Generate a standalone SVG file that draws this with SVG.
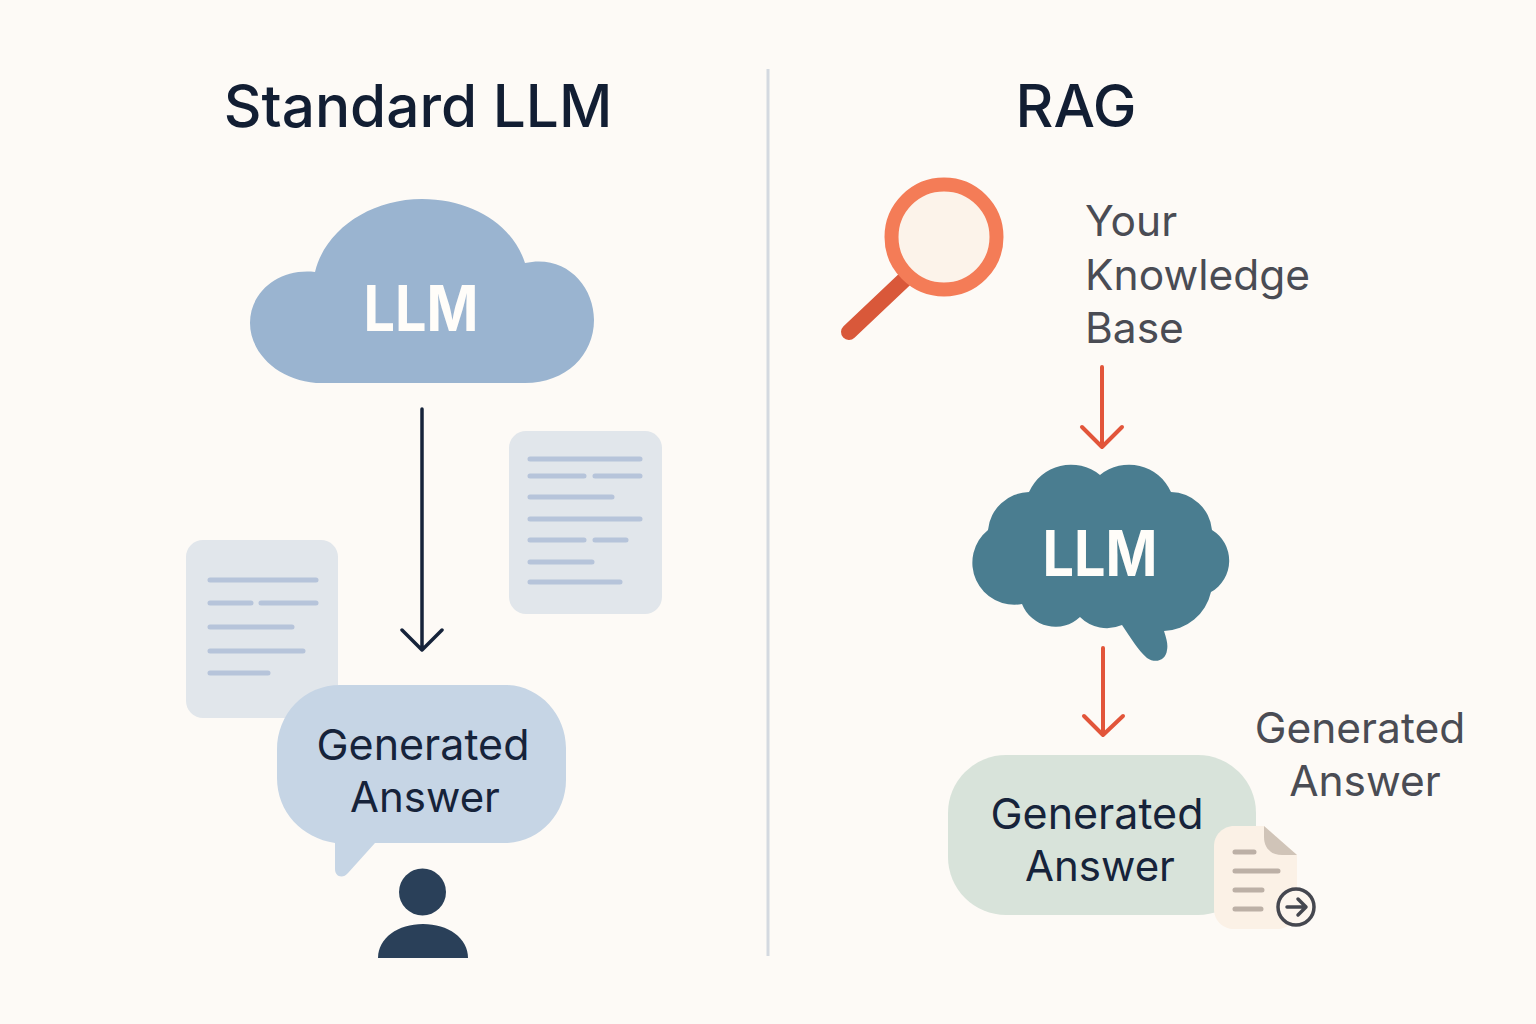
<svg xmlns="http://www.w3.org/2000/svg" width="1536" height="1024" viewBox="0 0 1536 1024">
<style>
text{font-family:"Inter","Noto Sans",sans-serif}
.title{font-size:58.500px;font-weight:500;fill:#121e33;text-anchor:middle}
.llm{font-size:63px;font-weight:650;fill:#fffdf9;text-anchor:middle}
.lab{font-size:43px;fill:#16233a;text-anchor:middle}
.ans{font-size:42px}
.grey{font-size:42.500px;fill:#4a4c54}
.docl{stroke:#b6c4da;stroke-width:5;stroke-linecap:round;fill:none}
.fl{stroke:#bcb0a6;stroke-width:5;stroke-linecap:round;fill:none}
.blue{stroke:#16233a;stroke-width:3.500;fill:none;stroke-linecap:round;stroke-linejoin:round}
.red{stroke:#e2553a;stroke-width:4;fill:none;stroke-linecap:round;stroke-linejoin:round}
</style>
<rect width="1536" height="1024" fill="#fdfaf6"/>
<line x1="768" y1="69" x2="768" y2="956" stroke="#d4d9e0" stroke-width="3"/>
<text class="title" x="418" y="127">Standard LLM</text>
<text class="title" x="1076" y="127">RAG</text>
<g id="cloud-llm">
<path d="M322 383C282 383 250 355 250 323C250 291 280 268 315 272C325 230 370 199 422 199C472 199 513 225 525 263C565 254 594 285 594 320C594 355 566 383 525 383Z" fill="#9ab4d0"/>
<text class="llm" x="421" y="331" textLength="115" lengthAdjust="spacingAndGlyphs">LLM</text>
</g>
<g id="doc-right">
<rect x="509" y="431" width="153" height="183" rx="17" fill="#e1e6eb"/>
<path class="docl" d="M530 459H640M530 476H584M595 476H640M530 497H612M530 519H640M530 540H584M595 540H626M530 562H592M530 582H620"/>
</g>
<g id="doc-left">
<rect x="186" y="540" width="152" height="178" rx="17" fill="#e1e6eb"/>
<path class="docl" d="M210 580H316M210 603H251M261 603H316M210 627H292M210 651H303M210 673H268"/>
</g>
<g id="answer-left">
<path d="M340 685H505C539 685 566 714 566 748V780C566 814 539 843 505 843H375L348 873C343 879 335 877 335 869V843C302 838 277 812 277 778V750C277 714 304 685 340 685Z" fill="#c6d5e5"/>
<text class="lab" x="423" y="760">Generated</text>
<text class="lab ans" x="425" y="812">Answer</text>
</g>
<g id="user">
<circle cx="422.500" cy="892" r="23.500" fill="#2a4059"/>
<path d="M378 958C378 938 398 924 423 924C448 924 468 938 468 958Z" fill="#2a4059"/>
</g>
<g id="search">
<line x1="905" y1="279" x2="849" y2="332" stroke="#d9583a" stroke-width="16" stroke-linecap="round"/>
<circle cx="944" cy="237" r="52.500" fill="#fcf3ea" stroke="#f47c57" stroke-width="14"/>
</g>
<g id="kb">
<text class="grey" x="1085" y="236">Your</text>
<text class="grey" x="1085" y="290">Knowledge</text>
<text class="grey" x="1085" y="343">Base</text>
</g>
<g id="brain-llm">
<path d="M1100 475A46 46 0 0 1 1171 492A42 42 0 0 1 1212 530A36 36 0 0 1 1211 592A50 50 0 0 1 1164 631C1167 640 1168 645 1167 650C1166 660 1156 664 1147 658C1138 650 1130 637 1122 625A38 38 0 0 1 1080 617A36 36 0 0 1 1022 604A42 42 0 0 1 988 530A42 42 0 0 1 1029 492A46 46 0 0 1 1100 475Z" fill="#4a7d90"/>
<text class="llm" x="1100" y="576" textLength="115" lengthAdjust="spacingAndGlyphs">LLM</text>
</g>
<g id="answer-right">
<rect x="948" y="755" width="308" height="160" rx="58" fill="#d8e3da"/>
<text class="lab" x="1097" y="829">Generated</text>
<text class="lab ans" x="1100" y="881">Answer</text>
</g>
<g id="doc-output">
<path d="M1234 826H1264L1297 855V909C1297 921 1288 929 1277 929H1234C1223 929 1214 921 1214 909V846C1214 835 1223 826 1234 826Z" fill="#fbf1e6"/>
<path d="M1264 826L1297 855H1282C1271 855 1264 848 1264 837Z" fill="#d0c4b8"/>
<path class="fl" d="M1235 852H1254M1235 871H1278M1235 890H1262M1235 909H1261"/>
<circle cx="1296" cy="907" r="18" fill="#fdf6ee" stroke="#45474f" stroke-width="3.500"/>
<path d="M1287 907H1305M1298 899L1306 907L1298 915" fill="none" stroke="#45474f" stroke-width="3.500" stroke-linecap="round" stroke-linejoin="round"/>
</g>
<g id="generated-label">
<text class="grey" x="1360" y="743" text-anchor="middle">Generated</text>
<text class="grey" x="1365" y="796" text-anchor="middle">Answer</text>
</g>
<g id="connectors">
<path class="blue" d="M422 409V650M402 630L422 650L442 630"/>
<path class="red" d="M1102 367V447M1082 427L1102 447L1122 427"/>
<path class="red" d="M1103 648V735M1084 716L1103 735L1123 716"/>
</g>
</svg>
